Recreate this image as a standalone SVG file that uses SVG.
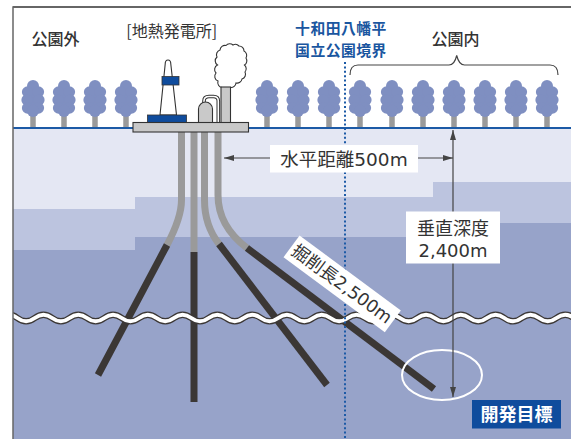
<svg xmlns="http://www.w3.org/2000/svg" xmlns:xlink="http://www.w3.org/1999/xlink" width="571" height="439" viewBox="0 0 571 439">
  <style>
    .jp { font-family: "Noto Sans CJK JP", sans-serif; }
    .num { font-family: "DejaVu Sans", "Noto Sans CJK JP", sans-serif; fill: #333; }
    .plain { fill: #333; font-size: 16px; font-weight: 500; }
    .blue { fill: #1a56a0; font-size: 14.8px; font-weight: bold; letter-spacing: 0.5px; }
    .gray-pipe { fill: none; stroke: #9a9a9a; stroke-width: 7; }
    .bore { fill: none; stroke: #3b3735; stroke-width: 7; }
    .dim { fill: none; stroke: #444; stroke-width: 1.2; }
    .outline { stroke: #333; stroke-width: 1.1; }
  </style>
  <defs>
    <clipPath id="panel">
      <rect x="13" y="7" width="558" height="432"/>
    </clipPath>
    <marker id="arrow" viewBox="0 0 10 6" refX="10" refY="3" markerWidth="10" markerHeight="6" markerUnits="userSpaceOnUse" orient="auto-start-reverse">
      <path d="M0,0 L10,3 L0,6 Z" fill="#444"/>
    </marker>
    <g id="tree">
      <rect x="-2.75" y="-12" width="5.5" height="12" fill="#9a9a9a"/>
      <g fill="#7f8fc1">
        <ellipse cx="0" cy="-29" rx="8" ry="15"/>
        <circle cx="0" cy="-42" r="6"/>
        <circle cx="-5.3" cy="-36" r="5.8"/>
        <circle cx="5.3" cy="-36" r="5.8"/>
        <circle cx="-6" cy="-28" r="5.6"/>
        <circle cx="6" cy="-28" r="5.6"/>
        <circle cx="-5.3" cy="-20" r="5.8"/>
        <circle cx="5.3" cy="-20" r="5.8"/>
        <circle cx="0" cy="-17" r="6"/>
      </g>
    </g>
  </defs>

  <rect width="571" height="439" fill="#ffffff"/>

  <g clip-path="url(#panel)">
    <!-- underground strata -->
    <g id="strata">
      <rect x="13" y="129" width="558" height="310" fill="#e4e7f3"/>
      <path d="M13,209 H135 V197 H433 V182 H571 V439 H13 Z" fill="#bcc4df"/>
      <path d="M13,250 H135 V237 H433 V223 H571 V439 H13 Z" fill="#97a3c9"/>
    </g>

    <!-- forest along the surface -->
    <g id="trees">
      <use xlink:href="#tree" x="33" y="128"/>
      <use xlink:href="#tree" x="64" y="128"/>
      <use xlink:href="#tree" x="95" y="128"/>
      <use xlink:href="#tree" x="126" y="128"/>
      <use xlink:href="#tree" x="267" y="128"/>
      <use xlink:href="#tree" x="298" y="128"/>
      <use xlink:href="#tree" x="329" y="128"/>
      <use xlink:href="#tree" x="360" y="128"/>
      <use xlink:href="#tree" x="392" y="128"/>
      <use xlink:href="#tree" x="423" y="128"/>
      <use xlink:href="#tree" x="454" y="128"/>
      <use xlink:href="#tree" x="485" y="128"/>
      <use xlink:href="#tree" x="516" y="128"/>
      <use xlink:href="#tree" x="547" y="128"/>
    </g>

    <!-- ground surface -->
    <line id="surface" x1="13" y1="128" x2="571" y2="128" stroke="#1c5aa6" stroke-width="2.2"/>

    <!-- connectors: wells and dimension lines -->
    <g id="connectors">
      <g id="wells">
        <path class="gray-pipe" d="M181.5,131 V200 Q181.5,217.7 167,245"/>
        <path class="bore" d="M167,245 L98,375"/>
        <path class="gray-pipe" d="M194,131 V252"/>
        <path class="bore" d="M194,252 V402"/>
        <path class="gray-pipe" d="M204.5,131 V200 Q204.5,225.3 219,244"/>
        <path class="bore" d="M219,244 L327,385"/>
        <path class="gray-pipe" d="M218,131 V195 Q218,226 247,248"/>
        <path class="bore" d="M247,248 L434,389"/>
      </g>

      <!-- depth break -->
      <g id="break">
        <path d="M0,318 q8.7,-6.5 17.39,0 t17.39,0 t17.39,0 t17.39,0 t17.39,0 t17.39,0 t17.39,0 t17.39,0 t17.39,0 t17.39,0 t17.39,0 t17.39,0 t17.39,0 t17.39,0 t17.39,0 t17.39,0 t17.39,0 t17.39,0 t17.39,0 t17.39,0 t17.39,0 t17.39,0 t17.39,0 t17.39,0 t17.39,0 t17.39,0 t17.39,0 t17.39,0 t17.39,0 t17.39,0 t17.39,0 t17.39,0 t17.39,0" fill="none" stroke="#3b3735" stroke-width="6.5"/>
        <path d="M0,318 q8.7,-6.5 17.39,0 t17.39,0 t17.39,0 t17.39,0 t17.39,0 t17.39,0 t17.39,0 t17.39,0 t17.39,0 t17.39,0 t17.39,0 t17.39,0 t17.39,0 t17.39,0 t17.39,0 t17.39,0 t17.39,0 t17.39,0 t17.39,0 t17.39,0 t17.39,0 t17.39,0 t17.39,0 t17.39,0 t17.39,0 t17.39,0 t17.39,0 t17.39,0 t17.39,0 t17.39,0 t17.39,0 t17.39,0 t17.39,0" fill="none" stroke="#ffffff" stroke-width="4"/>
      </g>

      <!-- park boundary -->
      <line id="boundary" x1="345" y1="62" x2="345" y2="439" stroke="#1c5aa6" stroke-width="2" stroke-dasharray="2 2.4"/>

      <!-- target zone -->
      <ellipse cx="442" cy="375" rx="40" ry="25" fill="none" stroke="#ffffff" stroke-width="2"/>

      <g id="dimensions">
        <line class="dim" x1="270" y1="158" x2="224" y2="158" marker-end="url(#arrow)"/>
        <line class="dim" x1="418" y1="158" x2="453" y2="158" marker-end="url(#arrow)"/>
        <line class="dim" x1="453" y1="397" x2="453" y2="130" marker-start="url(#arrow)" marker-end="url(#arrow)"/>
      </g>
    </g>

    <!-- geothermal power plant -->
    <g id="plant">
      <path class="outline" d="M222,87.5 A5,5 0 0 1 218,81 A5,5 0 0 1 216,73 A5,5 0 0 1 217.5,65 A5,5 0 0 1 217,57 A5,5 0 0 1 220,50 A5,5 0 0 1 226,45.5 A5,5 0 0 1 233,45 A5,5 0 0 1 239,46 A5,5 0 0 1 244,51 A5,5 0 0 1 246,58 A5,5 0 0 1 244.5,65 A5,5 0 0 1 245,72 A5,5 0 0 1 242,79 A5,5 0 0 1 236,83 A5,5 0 0 1 230.5,87.5 Z" fill="#ffffff"/>
      <rect class="outline" x="221" y="87" width="9.5" height="36" fill="#c9c9c9"/>
      <path d="M204,104 V101 Q204,96.5 209,96.5 H213.5 Q218.3,96.5 218.3,101 V122" fill="none" stroke="#333" stroke-width="3.6"/>
      <path d="M204,104 V101 Q204,96.5 209,96.5 H213.5 Q218.3,96.5 218.3,101 V122" fill="none" stroke="#ffffff" stroke-width="1.6"/>
      <path class="outline" d="M198.5,123 V109 A7,7 0 0 1 212.5,109 V123 Z" fill="#c9c9c9"/>
      <path class="outline" d="M160,115 L165.2,64 A2.8,4 0 0 1 170.8,64 L176.5,115 Z" fill="#ffffff"/>
      <rect x="162" y="76.5" width="17" height="8.5" fill="#0f4c9d" stroke="#333" stroke-width="0.8"/>
      <rect x="147.5" y="115" width="39" height="8" fill="#0f4c9d" stroke="#333" stroke-width="0.8"/>
      <rect class="outline" x="133" y="122.5" width="115.5" height="9.5" fill="#c9c9c9"/>
    </g>

    <!-- measurement labels -->
    <g id="label-horizontal">
      <rect x="270" y="145" width="148" height="27.5" fill="#ffffff"/>
      <text class="num" x="344" y="165.5" font-size="18.5" text-anchor="middle">水平距離500m</text>
    </g>
    <g id="label-vertical">
      <rect x="406" y="211.5" width="94" height="52" fill="#ffffff"/>
      <text class="num" font-size="18" text-anchor="middle"><tspan x="453" y="234.5">垂直深度</tspan><tspan x="453" y="256.5">2,400m</tspan></text>
    </g>
    <g id="label-length" transform="translate(342.2,283.8) rotate(36.5)">
      <rect x="-63" y="-13.5" width="126" height="27" fill="#ffffff"/>
      <text class="num" x="0" y="6.3" font-size="17.5" text-anchor="middle">掘削長2,500m</text>
    </g>
    <g id="label-target">
      <rect x="472" y="400" width="89" height="28.5" fill="#0f4c9d"/>
      <text class="jp" x="516.5" y="421" font-size="18" font-weight="bold" fill="#ffffff" text-anchor="middle">開発目標</text>
    </g>
  </g>

  <!-- panel frame -->
  <g id="frame" fill="none">
    <line x1="13" y1="7" x2="571" y2="7" stroke="#333" stroke-width="1.5"/>
    <line x1="13" y1="6.3" x2="13" y2="439" stroke="#666" stroke-width="1.5"/>
  </g>

  <!-- area labels -->
  <g id="area-labels" class="jp">
    <text class="plain" x="55.5" y="45" text-anchor="middle">公園外</text>
    <text x="171.7" y="37" font-size="16" fill="#333" text-anchor="middle">[地熱発電所]</text>
    <text class="blue" text-anchor="middle"><tspan x="341" y="34">十和田八幡平</tspan><tspan x="341" y="55.5">国立公園境界</tspan></text>
    <text class="plain" x="455.5" y="45" text-anchor="middle">公園内</text>
  </g>

  <!-- park interior brace -->
  <path id="brace" d="M350,75 Q350,65 358,65 H449 Q454.5,65 456.7,55.5 Q459,65 464.5,65 H550 Q558,65 558,75" fill="none" stroke="#444" stroke-width="1.2"/>
</svg>
